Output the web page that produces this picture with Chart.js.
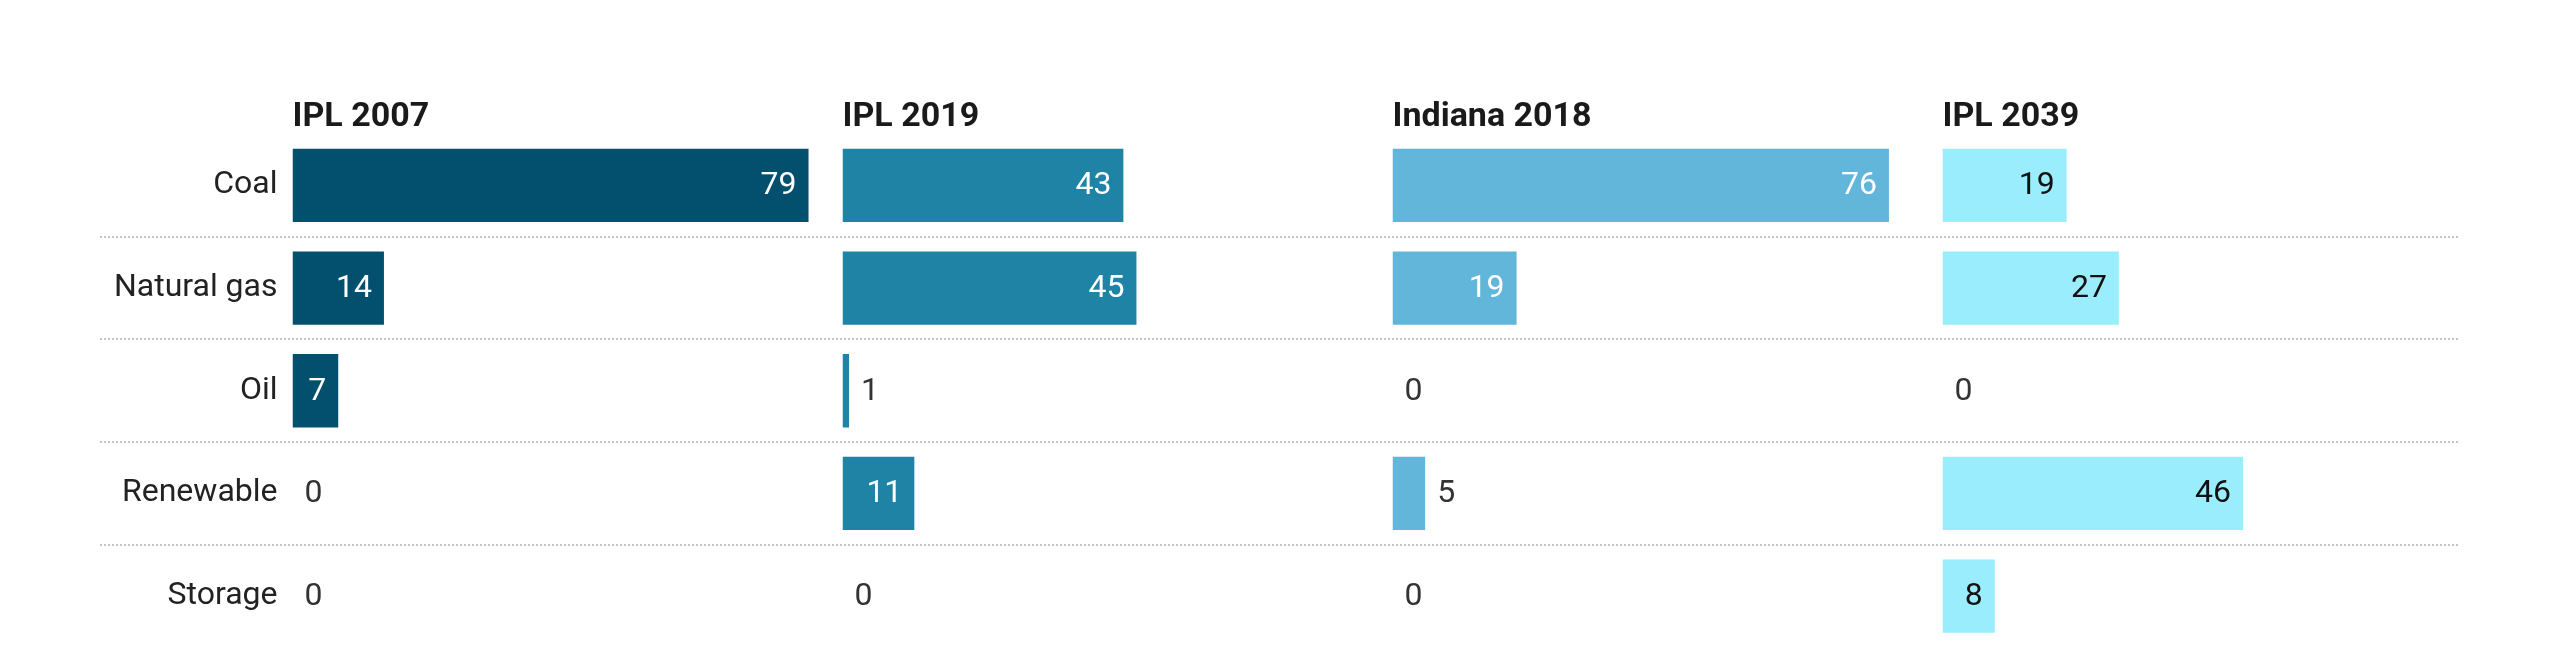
<!DOCTYPE html>
<html>
<head>
<meta charset="utf-8">
<script src="https://cdn.jsdelivr.net/npm/chart.js@4/dist/chart.umd.min.js"></script>
<style>
  body { margin: 0; background: #fff; }
  canvas { display: block; }
</style>
</head>
<body>
<canvas id="barChart" width="2560" height="658"></canvas>
<script>
// Categories and panels
const categories = ['Coal', 'Natural gas', 'Oil', 'Renewable', 'Storage'];
const panels = ['IPL 2007', 'IPL 2019', 'Indiana 2018', 'IPL 2039'];

// Share of generation per panel
const ipl2007 = [79, 14, 7, 0, 0];
const ipl2019 = [43, 45, 1, 11, 0];
const indiana2018 = [76, 19, 0, 5, 0];
const ipl2039 = [19, 27, 0, 46, 8];

const panelValues = [ipl2007, ipl2019, indiana2018, ipl2039];
const panelColors = ['#02506e', '#1f83a5', '#62b6da', '#9aedfd'];
const insideText = ['#ffffff', '#ffffff', '#ffffff', '#111111'];

const FONT = 'Roboto';

// dotted separators between rows
const separators = {
    id: 'separators',
    beforeDatasetsDraw(chart) {
        const ctx = chart.ctx;
        const y = chart.scales.y;
        ctx.save();
        ctx.strokeStyle = '#c4c4c4';
        ctx.lineWidth = 2;
        ctx.setLineDash([2, 2]);
        for (let i = 0; i < categories.length - 1; i++) {
            const py = Math.round((y.getPixelForValue(i) + y.getPixelForValue(i + 1)) / 2);
            ctx.beginPath();
            ctx.moveTo(100, py);
            ctx.lineTo(2460, py);
            ctx.stroke();
        }
        ctx.restore();
    }
};

// value labels, inside the bar when it fits
const valueLabels = {
    id: 'valueLabels',
    afterDatasetsDraw(chart) {
        const ctx = chart.ctx;
        ctx.save();
        ctx.font = '32px ' + FONT;
        ctx.textBaseline = 'middle';
        chart.data.datasets.forEach((ds, di) => {
            const meta = chart.getDatasetMeta(di);
            meta.data.forEach((bar, i) => {
                const txt = String(ds.data[i]);
                const tw = ctx.measureText(txt).width;
                const w = bar.x - bar.base;
                if (w >= tw + 26) {
                    ctx.textAlign = 'right';
                    ctx.fillStyle = insideText[di];
                    ctx.fillText(txt, bar.x - 12, bar.y + 1);
                } else {
                    ctx.textAlign = 'left';
                    ctx.fillStyle = '#333333';
                    ctx.fillText(txt, bar.x + 12, bar.y + 1);
                }
            });
        });
        ctx.restore();
    }
};

const scales = {
    y: {
        type: 'category',
        position: 'left',
        grid: { display: false, drawTicks: false },
        border: { display: false },
        ticks: {
            color: '#222222',
            padding: 15,
            font: { family: FONT, size: 32 }
        },
        afterFit(scale) {
            scale.width = 292.5;
            scale.paddingTop = 0;
            scale.paddingBottom = 0;
        }
    }
};

panels.forEach((name, p) => {
    scales['x' + p] = {
        axis: 'x',
        type: 'linear',
        position: 'top',
        stack: 'panels',
        stackWeight: 1,
        weight: panels.length - p,
        min: 0,
        max: 84.2,
        grid: { display: false, drawTicks: false },
        border: { display: false },
        ticks: { display: false },
        title: {
            display: true,
            text: name,
            align: 'start',
            color: '#1a1a1a',
            padding: { top: 97, bottom: 0 },
            font: { family: FONT, size: 34, weight: 'bold' }
        },
        afterFit(scale) { scale.height = 134; }
    };
});

const ctx = document.getElementById('barChart').getContext('2d');
new Chart(ctx, {
    type: 'bar',
    data: {
        labels: categories,
        datasets: panels.map((name, p) => ({
            label: name,
            data: panelValues[p],
            backgroundColor: panelColors[p],
            xAxisID: 'x' + p,
            yAxisID: 'y',
            grouped: false,
            categoryPercentage: 1,
            barPercentage: 0.714
        }))
    },
    options: {
        indexAxis: 'y',
        responsive: false,
        animation: false,
        layout: { padding: { left: 0, right: 67.5, top: 0, bottom: 10.5 } },
        plugins: {
            legend: { display: false },
            tooltip: { enabled: false }
        },
        scales: scales
    },
    plugins: [separators, valueLabels]
});
</script>
</body>
</html>
